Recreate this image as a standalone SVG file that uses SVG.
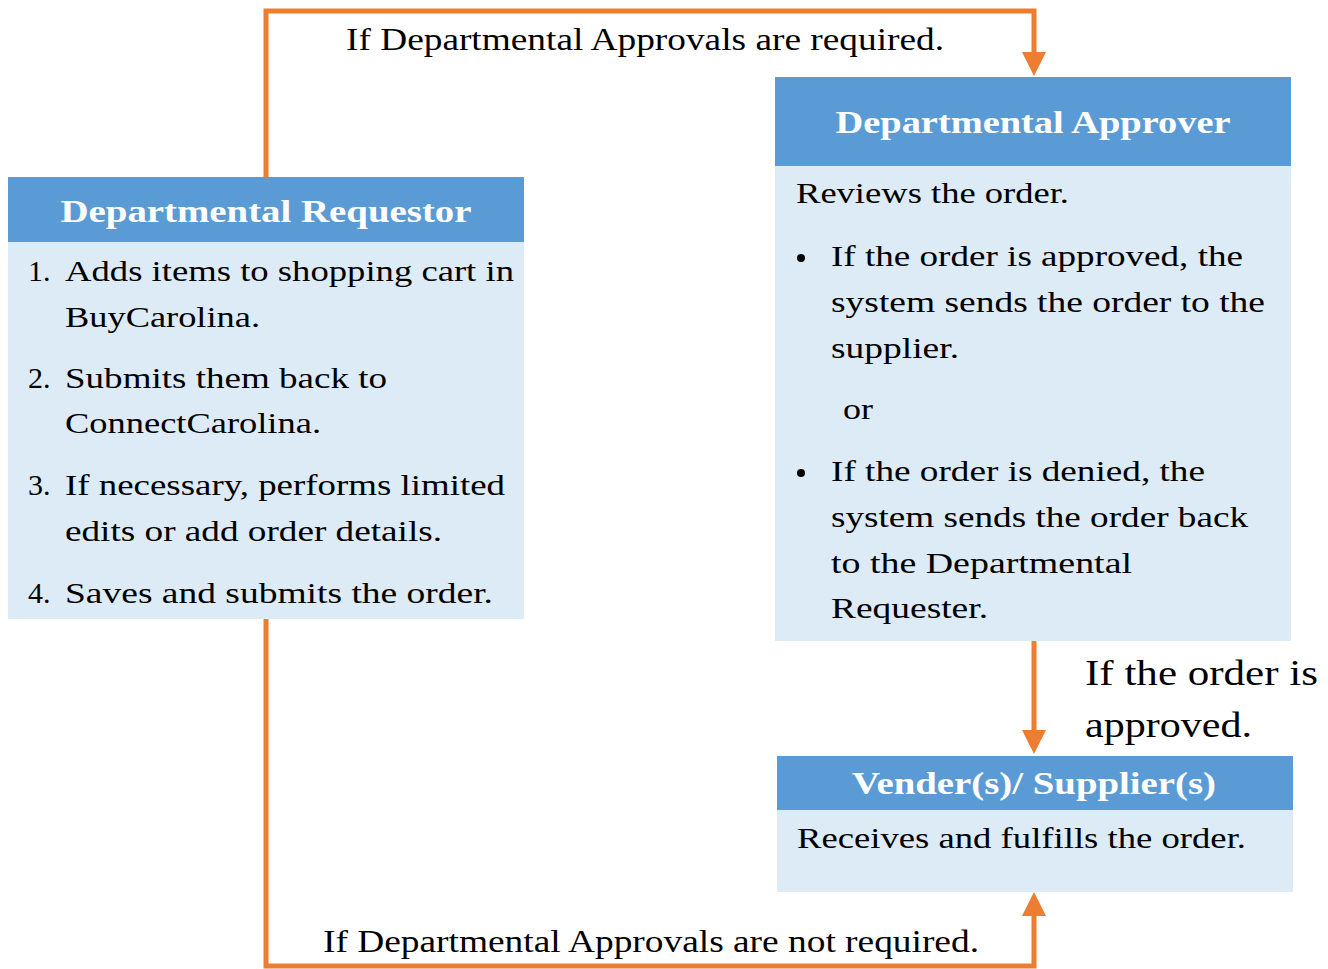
<svg xmlns="http://www.w3.org/2000/svg" width="1328" height="969" viewBox="0 0 1328 969">
<style>
.hdr{fill:#5B9BD5}
.body{fill:#DDEBF7}
.ht{font-family:"Liberation Serif","DejaVu Serif",serif;font-weight:bold;font-size:31px;fill:#ffffff;text-anchor:middle}
.t{font-family:"Liberation Serif","DejaVu Serif",serif;font-size:30px;fill:#000000}
.lbl{font-family:"Liberation Serif","DejaVu Serif",serif;font-size:31px;fill:#000000}
.big{font-family:"Liberation Serif","DejaVu Serif",serif;font-size:35px;fill:#000000}
.conn{fill:none;stroke:#ED7D31;stroke-width:5}
</style>
<defs>
<marker id="ah" markerUnits="userSpaceOnUse" viewBox="0 0 24 24" markerWidth="24" markerHeight="24" refX="4" refY="12" orient="auto">
<path d="M0,0 L24,12 L0,24 z" fill="#ED7D31"/>
</marker>
</defs>
<rect width="1328" height="969" fill="#ffffff"/>
<g id="connectors">
<path class="conn" d="M266,178 V11 H1034 V56" marker-end="url(#ah)"/>
<path class="conn" d="M1034,641 V734" marker-end="url(#ah)"/>
<path class="conn" d="M266,618 V966 H1034 V912" marker-end="url(#ah)"/>
</g>
<g id="label-required">
<text class="lbl" x="346" y="50" textLength="598" lengthAdjust="spacingAndGlyphs">If Departmental Approvals are required.</text>
</g>
<g id="label-not-required">
<text class="lbl" x="323" y="952" textLength="656" lengthAdjust="spacingAndGlyphs">If Departmental Approvals are not required.</text>
</g>
<g id="label-approved">
<text class="big" x="1085" y="685" textLength="233" lengthAdjust="spacingAndGlyphs">If the order is</text>
<text class="big" x="1085" y="737" textLength="167" lengthAdjust="spacingAndGlyphs">approved.</text>
</g>
<g id="node-requestor">
<rect class="hdr" x="8" y="177" width="516" height="65"/>
<rect class="body" x="8" y="242" width="516" height="377"/>
<text class="ht" x="266" y="222" textLength="411" lengthAdjust="spacingAndGlyphs">Departmental Requestor</text>
<text class="t" x="28" y="281">1.</text>
<text class="t" x="65" y="281" textLength="449" lengthAdjust="spacingAndGlyphs">Adds items to shopping cart in</text>
<text class="t" x="65" y="327" textLength="195" lengthAdjust="spacingAndGlyphs">BuyCarolina.</text>
<text class="t" x="28" y="388">2.</text>
<text class="t" x="65" y="388" textLength="322" lengthAdjust="spacingAndGlyphs">Submits them back to</text>
<text class="t" x="65" y="433" textLength="256" lengthAdjust="spacingAndGlyphs">ConnectCarolina.</text>
<text class="t" x="28" y="495">3.</text>
<text class="t" x="65" y="495" textLength="440" lengthAdjust="spacingAndGlyphs">If necessary, performs limited</text>
<text class="t" x="65" y="541" textLength="377" lengthAdjust="spacingAndGlyphs">edits or add order details.</text>
<text class="t" x="28" y="603">4.</text>
<text class="t" x="65" y="603" textLength="428" lengthAdjust="spacingAndGlyphs">Saves and submits the order.</text>
</g>
<g id="node-approver">
<rect class="hdr" x="775" y="77" width="516" height="89"/>
<rect class="body" x="775" y="166" width="516" height="475"/>
<text class="ht" x="1033" y="133" textLength="395" lengthAdjust="spacingAndGlyphs">Departmental Approver</text>
<text class="t" x="796" y="203" textLength="273" lengthAdjust="spacingAndGlyphs">Reviews the order.</text>
<circle cx="801" cy="258" r="4"/>
<text class="t" x="831" y="266" textLength="412" lengthAdjust="spacingAndGlyphs">If the order is approved, the</text>
<text class="t" x="831" y="312" textLength="434" lengthAdjust="spacingAndGlyphs">system sends the order to the</text>
<text class="t" x="831" y="358" textLength="128" lengthAdjust="spacingAndGlyphs">supplier.</text>
<text class="t" x="843" y="419" textLength="30" lengthAdjust="spacingAndGlyphs">or</text>
<circle cx="801" cy="473" r="4"/>
<text class="t" x="831" y="481" textLength="374" lengthAdjust="spacingAndGlyphs">If the order is denied, the</text>
<text class="t" x="831" y="527" textLength="417" lengthAdjust="spacingAndGlyphs">system sends the order back</text>
<text class="t" x="831" y="573" textLength="301" lengthAdjust="spacingAndGlyphs">to the Departmental</text>
<text class="t" x="831" y="618" textLength="157" lengthAdjust="spacingAndGlyphs">Requester.</text>
</g>
<g id="node-vendor">
<rect class="hdr" x="777" y="756" width="516" height="54"/>
<rect class="body" x="777" y="810" width="516" height="82"/>
<text class="ht" x="1034" y="794" textLength="364" lengthAdjust="spacingAndGlyphs">Vender(s)/ Supplier(s)</text>
<text class="t" x="797" y="848" textLength="449" lengthAdjust="spacingAndGlyphs">Receives and fulfills the order.</text>
</g>
</svg>
